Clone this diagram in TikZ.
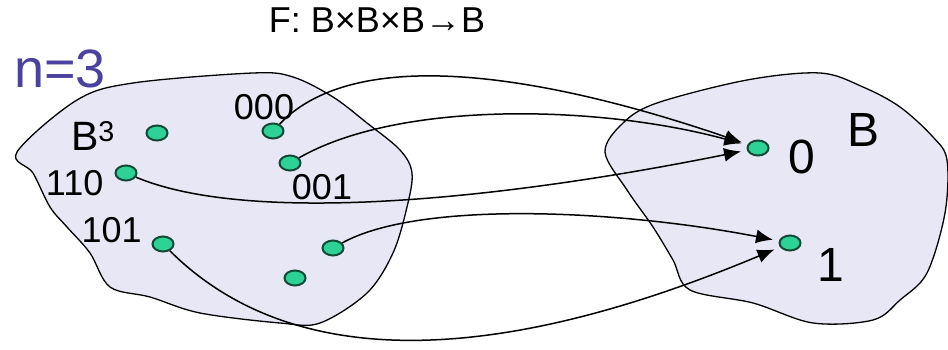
\documentclass[tikz,border=0pt]{standalone}
\usepackage{fontspec}
\setmainfont{Liberation Sans}
\usepackage{xcolor}
\usetikzlibrary{arrows.meta, positioning, shapes.geometric}

\definecolor{setfill}{HTML}{E7E7F6}
\definecolor{dotfill}{HTML}{2CD296}
\definecolor{dotline}{HTML}{124A38}
\definecolor{ncolor}{HTML}{4B419E}

\begin{document}
\begin{tikzpicture}[
    x=1pt, y=-1pt,
    node distance=2pt,
    blob/.style={draw, line width=1.3pt, fill=setfill},
    pt/.style={ellipse, draw=dotline, line width=2pt, fill=dotfill, minimum width=21pt, minimum height=15pt, inner sep=0pt},
    lbl/.style={font=\fontsize{36}{36}\selectfont, inner sep=1pt},
    big/.style={font=\fontsize{48}{48}\selectfont, inner sep=1pt},
    arrow/.style={-{Latex[length=17pt,width=14pt]}, line width=1.5pt, shorten >=6pt}
]
\useasboundingbox (0,0) rectangle (948,350);

% Sets
\draw[blob] plot[smooth cycle, tension=0.55] coordinates {
    (17,152) (77,100) (133,83) (253,73) (293,77) (333,97) (367,123) (400,150)
    (412,173) (407,207) (393,253) (367,293) (320,323) (280,323) (200,313)
    (150,297) (110,287) (90,253) (67,227) (50,207) (33,173)};
\draw[blob] plot[smooth cycle, tension=0.55] coordinates {
    (605,152) (623,123) (657,103) (747,80) (820,73) (863,87) (900,107) (933,137)
    (947,160) (945,213) (927,273) (900,300) (873,320) (813,323) (753,303)
    (690,290) (673,260) (653,227) (627,190)};

% Points of B^3
\node[pt] (dA) at (157,133) {};
\node[pt] (d000) at (273,131) {};
\node[pt] (d001) at (290,163) {};
\node[pt] (d110) at (126,173) {};
\node[pt] (d101) at (163,244) {};
\node[pt] (dB) at (333,248) {};
\node[pt] (dC) at (295,278) {};

% Points of B
\node[pt] (z0) at (758,148) {};
\node[pt] (z1) at (790,243) {};

% Labels
\node[lbl, above=1pt of d000, xshift=-9pt] {000};
\node[lbl, below=2pt of d001, xshift=32pt] {001};
\node[lbl, left=10pt of d110, yshift=-10pt] {110};
\node[lbl, above left=-6pt and 12pt of d101] {101};
\node[font=\fontsize{41}{41}\selectfont, inner sep=1pt] (bcube) at (93,136) {B\textsuperscript{3}};
\node[big, right=18pt of z0, yshift=-9pt] (lz0) {0};
\node[big] (bset) at (863,130) {B};
\node[big, below right=-2pt and 18pt of z1] (lz1) {1};
\node[font=\fontsize{54}{54}\selectfont, text=ncolor, inner sep=1pt] (n) at (60,69) {n=3};
\node[font=\fontsize{36}{36}\selectfont, inner sep=1pt] (title) at (377,20) {F: B×B×B→B};

% Mapping
\draw[arrow] (d000) .. controls (360,40) and (560,80) .. (z0);
\draw[arrow] (d001) .. controls (400,100) and (600,105) .. (z0);
\draw[arrow] (d110) .. controls (250,225) and (500,200) .. (z0);
\draw[arrow] (dB) .. controls (420,200) and (620,210) .. (z1);
\draw[arrow] (d101) .. controls (320,400) and (570,335) .. (z1);
\end{tikzpicture}
\end{document}
